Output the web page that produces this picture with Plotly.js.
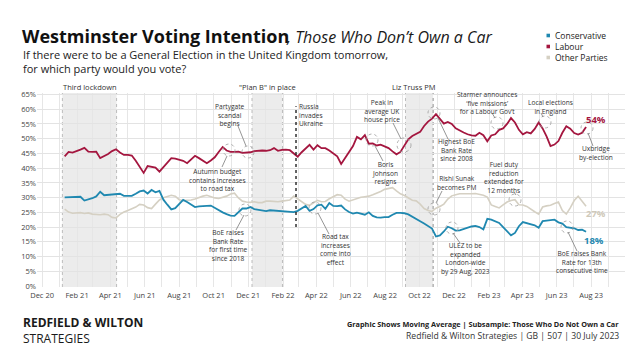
<!DOCTYPE html>
<html>
<head>
<meta charset="utf-8">
<script src="https://cdn.plot.ly/plotly-3.0.1.min.js"></script>
<style>html,body{margin:0;padding:0;background:#fff;}#chart{width:634px;height:356px;}</style>
</head>
<body>
<div id="chart"></div>
<script>
// ---- data (weekly moving average) ----
const firstPoll = '2021-01-10';
const seriesNames = ['Conservative', 'Labour', 'Other Parties'];
const labour = [
44.0,45.5,45.3,45.7,46.3,46.9,45.6,45.5,45.6,43.4,
44.1,44.8,45.8,46.4,45.3,44.5,44.5,44.3,42.5,40.5,
38.4,40.7,40.4,40.2,38.8,40.4,42.0,43.4,43.2,42.9,
42.5,41.7,43.0,44.2,43.4,42.6,41.7,42.6,43.7,45.5,
47.2,46.0,45.5,45.5,45.6,45.2,45.2,45.4,45.8,46.0,
46.0,45.9,46.1,46.8,45.9,46.2,46.3,46.1,45.0,43.9,
45.4,46.7,47.9,46.3,47.8,46.8,46.8,46.0,45.0,44.0,
41.4,43.4,45.1,47.5,50.6,49.8,51.2,48.3,48.4,47.7,
48.0,47.4,46.8,45.7,44.7,45.5,47.8,49.8,50.9,51.5,
52.3,54.3,55.8,56.8,58.3,56.7,55.1,55.7,55.0,53.5,
52.7,52.1,51.5,51.1,51.0,52.0,51.2,49.1,51.1,51.5,
53.0,53.5,55.0,57.0,55.5,53.0,51.5,52.2,51.8,53.3,
55.5,53.5,50.8,47.5,48.0,49.2,52.0,54.2,53.4,51.9,
51.4,52.0,54.0];
const conservative = [
30.1,30.2,30.2,30.3,30.3,29.0,29.3,29.8,30.4,32.0,
30.8,30.9,31.2,31.3,31.3,30.6,30.5,30.6,31.3,32.1,
32.4,31.4,32.6,31.8,32.3,29.3,27.6,26.0,26.4,27.8,
29.2,28.5,27.5,26.8,27.0,27.0,27.2,27.3,26.5,25.8,
25.0,24.4,23.9,23.8,24.9,26.3,26.3,26.8,26.1,25.9,
25.7,25.4,25.7,25.6,25.5,25.4,25.3,25.3,25.1,25.5,
26.3,27.2,25.5,26.1,27.4,27.6,26.2,28.2,27.2,27.1,
27.3,26.0,25.1,24.6,24.9,24.5,24.2,25.0,23.8,23.3,
23.2,23.4,23.4,24.2,24.8,24.8,24.7,24.3,23.6,22.8,
22.0,21.2,20.4,19.5,16.8,17.2,18.5,20.1,19.6,18.8,
18.9,19.3,19.9,20.2,20.4,20.0,19.2,22.8,22.5,22.0,
21.4,20.0,18.7,17.2,18.0,20.3,21.7,21.4,21.0,20.6,
19.8,22.0,22.2,22.3,22.5,21.6,21.2,20.0,19.7,19.6,
19.0,19.1,18.4];
const otherParties = [
26.1,25.1,24.7,24.8,24.9,24.6,24.8,24.4,24.3,24.2,
24.4,24.2,23.3,23.1,24.3,25.1,25.6,26.1,26.8,27.7,
27.5,26.6,26.3,27.8,29.2,30.0,30.5,30.8,30.5,29.3,
29.0,29.0,29.2,29.5,30.1,30.5,30.8,30.3,29.9,29.7,
30.0,30.5,31.2,31.5,29.9,28.8,28.5,28.4,28.6,28.3,
28.3,28.8,28.8,28.7,28.6,28.8,29.0,29.2,30.5,29.5,
28.4,27.7,27.4,28.3,29.1,28.6,28.7,29.6,30.2,31.0,
30.8,29.5,28.8,29.3,29.8,30.1,30.3,30.5,31.0,31.5,
32.1,32.8,33.2,33.4,32.3,31.3,30.7,29.9,29.1,28.9,
27.8,26.3,25.6,25.3,26.4,27.0,27.8,29.5,30.6,31.0,
31.3,31.3,31.2,31.3,31.4,31.2,30.8,30.2,27.5,27.0,
26.5,27.5,28.5,29.0,29.3,27.6,27.5,27.0,26.0,25.2,
24.4,26.8,27.2,27.4,28.0,28.5,25.6,24.4,26.5,29.0,
30.5,28.8,27.1];
const endLabels = ['18%', '54%', '27%'];
// periods shown as shaded bands
const bandStarts = ['2021-01-06', '2021-12-08', '2022-09-06'];
const bandEnds   = ['2021-04-12', '2022-01-31', '2022-10-25'];
const bandNames  = ['Third lockdown', '"Plan B" in place', 'Liz Truss PM'];
const invasionDate = '2022-02-24';

// weekly poll dates
const pollDates = labour.map((_, i) => {
  const d = new Date(firstPoll + 'T00:00:00Z');
  d.setUTCDate(d.getUTCDate() + 7 * i);
  return d.toISOString().slice(0, 10);
});

// ---- layout helpers ----
const W = 634, H = 356, ML = 37, MR = 9, MT = 93, MB = 69;
const PW = W - ML - MR, PH = H - MT - MB;
const px = x => (x - ML) / PW;
const py = y => (H - MB - y) / PH;
const FONT = 'Open Sans, sans-serif';
const COL = {con: '#1f88b0', lab: '#a4163f', oth: '#d5d0c3'};

const annotations = [];
const shapes = [];
function txt(text, x, y, opt) {
  opt = opt || {};
  annotations.push({xref: 'paper', yref: 'paper', x: px(x), y: py(y), text: text,
    showarrow: false, xanchor: opt.xa || 'center', yanchor: 'middle', align: opt.align || 'center',
    borderpad: 0,
    font: {family: FONT, size: opt.size || 7, color: opt.color || '#333', weight: opt.weight || 400,
      style: opt.style || 'normal'}});
}
function note(lines, x, yc, opt) {
  opt = Object.assign({size: 6.6}, opt || {});
  txt(lines.join('<br>'), x, yc, opt);
}
function ring(cx, cy, r) {
  r = r || 6;
  shapes.push({type: 'circle', xref: 'paper', yref: 'paper', x0: px(cx - r), x1: px(cx + r),
    y0: py(cy + r), y1: py(cy - r), line: {color: '#9a9a9a', width: 0.8, dash: 'dot'}});
}
function lead(x0, y0, x1, y1) {
  shapes.push({type: 'line', xref: 'paper', yref: 'paper', x0: px(x0), y0: py(y0), x1: px(x1), y1: py(y1),
    line: {color: '#7a7a7a', width: 0.8}});
}

// bands
bandStarts.forEach((s, i) => {
  shapes.push({type: 'rect', xref: 'x', yref: 'paper', x0: s, x1: bandEnds[i], y0: 0, y1: 1,
    fillcolor: '#ececec', line: {width: 0}, layer: 'below'});
  shapes.push({type: 'line', xref: 'x', yref: 'paper', x0: s, x1: s, y0: 0, y1: 1,
    line: {color: '#b5b5b5', width: 0.9, dash: 'dot'}, layer: 'below'});
  shapes.push({type: 'line', xref: 'x', yref: 'paper', x0: bandEnds[i], x1: bandEnds[i], y0: 0, y1: 1,
    line: {color: i === 2 ? '#888' : '#b5b5b5', width: 0.9, dash: 'dot'}, layer: 'below'});
});
shapes.push({type: 'line', xref: 'x', yref: 'y', x0: invasionDate, x1: invasionDate, y0: 20, y1: 61,
  line: {color: '#222', width: 1.4, dash: 'dot'}});

// band labels
txt(bandNames[0], 90, 87, {size: 7.5});
txt(bandNames[1], 267, 87, {size: 7.5});
txt(bandNames[2], 414, 87, {size: 7.5});

// event notes
note(['Partygate', 'scandal', 'begins'], 230, 115);
ring(248, 152); lead(238, 126, 246, 146);
note(['Autumn budget', 'contains increases', 'to road tax'], 217, 180);
ring(229, 150); lead(222, 167, 227, 156);
note(['Russia', 'invades', 'Ukraine'], 298, 115, {xa: 'left', align: 'left'});
note(['Peak in', 'average UK', 'house price'], 382, 111);
ring(404, 145, 7); lead(393, 123, 401, 139);
note(['Boris', 'Johnson', 'resigns'], 385, 173);
ring(372, 140); lead(375, 146, 383, 161);
note(['Highest BoE', 'Bank Rate', 'since 2008'], 456, 150);
ring(434, 113); lead(438, 118, 448, 139);
note(['Starmer announces', '\u2018five missions\u2019', 'for a Labour Gov\u2019t'], 487, 103);
ring(497, 123); lead(492, 113, 495, 118);
note(['Local elections', 'in England'], 550, 107);
ring(545, 122); lead(541, 113, 543, 117);
note(['Uxbridge', 'by-election'], 596, 153);
ring(587, 128); lead(588, 133, 593, 146);
note(['Rishi Sunak', 'becomes PM'], 456, 183);
ring(434, 209); lead(442, 191, 436, 203);
note(['Fuel duty', 'reduction', 'extended for', '12 months'], 504, 177);
ring(515, 200); lead(514, 192, 516, 195);
note(['BoE raises', 'Bank Rate', 'for first time', 'since 2018'], 228, 245);
ring(245, 210); lead(244, 215, 236, 230);
note(['Road tax', 'increases', 'come into', 'effect'], 335, 249);
ring(315, 208); lead(318, 213, 329, 234);
note(['ULEZ to be', 'expanded', 'London-wide', 'by 29 Aug, 2023'], 465, 258);
ring(452, 228); lead(453, 233, 460, 243);
note(['BoE raises Bank', 'Rate for 13th', 'consecutive time'], 582, 262);
ring(567, 227); lead(568, 232, 577, 251);

// end labels
txt(endLabels[1], 596, 119, {size: 9.5, color: COL.lab, weight: 700});
txt(endLabels[2], 596, 213, {size: 9.5, color: '#cfc9ba', weight: 700});
txt(endLabels[0], 594, 240, {size: 9.5, color: COL.con, weight: 700});

// title block
txt('Westminster Voting Intention', 21, 36, {xa: 'left', size: 18, color: '#111', weight: 700});
txt(', Those Who Don\u2019t Own a Car', 285, 37, {xa: 'left', size: 16, color: '#1a1a1a', style: 'italic'});
txt('If there were to be a General Election in the United Kingdom tomorrow,<br>for which party would you vote?',
  22, 62, {xa: 'left', align: 'left', size: 11, color: '#222'});

// legend
const legCols = [COL.con, COL.lab, COL.oth];
[35.5, 46.5, 57.5].forEach((y, i) => {
  shapes.push({type: 'rect', xref: 'paper', yref: 'paper', x0: px(546.5), x1: px(550), y0: py(y + 1.8), y1: py(y - 1.8),
    fillcolor: legCols[i], line: {width: 0}});
});
txt(seriesNames.join('<br>'), 554, 46.5, {xa: 'left', align: 'left', size: 8.5, color: '#222'});

// footer
txt('<b>REDFIELD & WILTON</b><br>STRATEGIES', 22, 330, {xa: 'left', align: 'left', size: 12, color: '#1a1a1a'});
txt('<b>Graphic Shows Moving Average | Subsample: Those Who Do Not Own a Car</b>', 620, 323.5, {xa: 'right', size: 7.3, color: '#222'});
txt('Redfield & Wilton Strategies | GB | 507 | 30 July 2023', 620, 336, {xa: 'right', size: 8.6, color: '#333'});

const mk = (name, y, color, w) => ({type: 'scatter', mode: 'lines', name: name, x: pollDates, y: y,
  line: {color: color, width: w, shape: 'linear'}, showlegend: false, hoverinfo: 'skip'});
const data = [
  mk(seriesNames[2], otherParties, COL.oth, 1.6),
  mk(seriesNames[0], conservative, COL.con, 1.8),
  mk(seriesNames[1], labour, COL.lab, 1.8)
];

const layout = {
  width: W, height: H,
  margin: {l: ML, r: MR, t: MT, b: MB, pad: 0},
  paper_bgcolor: '#fff', plot_bgcolor: '#fff',
  showlegend: false,
  font: {family: FONT, color: '#444'},
  xaxis: {type: 'date', range: ['2020-11-22', '2023-09-30'], tick0: '2020-12-01', dtick: 'M2',
    tickformat: '%b %y', showgrid: true, gridcolor: '#e6e6e6', gridwidth: 1, zeroline: false, showline: false,
    ticks: '', ticklabelstandoff: 2, tickfont: {size: 7.5, color: '#444', family: FONT},
    minor: {dtick: 'M1', showgrid: true, gridcolor: '#e6e6e6', gridwidth: 1}},
  yaxis: {range: [-0.339, 65.509], tick0: 0, dtick: 5, ticksuffix: '%', showgrid: true, gridcolor: '#e3e3e3',
    zeroline: false, showline: false, ticks: '', tickfont: {size: 7.5, color: '#444', family: FONT}},
  shapes: shapes,
  annotations: annotations
};

Plotly.newPlot('chart', data, layout, {displayModeBar: false, staticPlot: true});
</script>
</body>
</html>
